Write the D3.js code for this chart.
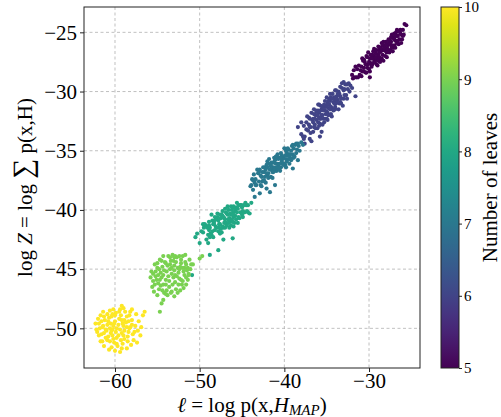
<!DOCTYPE html>
<html><head><meta charset="utf-8">
<script src="https://cdn.jsdelivr.net/npm/d3@7"></script>
<style>body{margin:0;background:#fff} svg{display:block} text{font-family:"Liberation Serif","Times New Roman",serif;}</style>
</head><body><svg id="c" width="501" height="417"></svg>
<script>
// Number of leaves for each cluster
const leaves = [5, 6, 7, 8, 9, 10];

// [ell = log p(x,H_MAP), log Z] points
const cluster5 = [[-28.3,-26.5],[-28.8,-26.5],[-27.9,-26.7],[-29.2,-27.3],[-27.4,-25.8],[-28.6,-27.3],[-29.7,-26.9],[-27.0,-26.1],[-30.1,-27.7],[-28.0,-25.8],[-29.4,-27.1],[-26.7,-25.3],[-30.5,-27.5],[-28.9,-27.4],[-27.6,-26.7],[-30.0,-28.1],[-26.4,-25.6],[-31.0,-28.2],[-28.2,-26.1],[-29.6,-27.7],[-26.2,-25.2],[-31.4,-28.1],[-27.2,-25.4],[-30.3,-27.0],[-28.5,-26.5],[-29.0,-27.1],[-26.0,-24.8],[-31.7,-28.8],[-27.3,-26.1],[-29.9,-27.2],[-28.4,-26.9],[-25.9,-25.2],[-30.8,-28.3],[-27.8,-26.1],[-29.3,-26.5],[-32.0,-28.6],[-25.8,-24.3],[-28.7,-26.3],[-27.1,-26.3],[-30.2,-28.0],[-26.8,-25.0],[-31.2,-27.8],[-29.5,-27.0],[-28.1,-27.0],[-26.5,-26.0],[-30.9,-27.9],[-27.5,-25.7],[-29.1,-27.7],[-26.1,-25.6],[-31.5,-28.8],[-28.3,-25.8],[-30.4,-28.4],[-27.4,-26.1],[-29.8,-27.6],[-26.3,-24.8],[-29.9,-28.8],[-31.8,-28.2],[-28.6,-26.6],[-27.0,-25.6],[-30.6,-28.0],[-26.7,-25.9],[-29.6,-26.9],[-28.0,-26.6],[-30.7,-27.4],[-27.7,-26.6],[-26.6,-25.3],[-29.2,-26.8],[-28.8,-27.1],[-31.1,-28.6],[-27.9,-26.0],[-29.7,-27.9],[-28.4,-26.5],[-30.0,-27.5],[-26.0,-25.3],[-27.3,-25.2],[-25.6,-24.4],[-28.9,-26.9],[-29.4,-27.5],[-27.6,-25.9],[-28.2,-26.5],
  [-28.5,-25.9],[-29.0,-27.8],[-27.7,-25.6],[-30.2,-27.1],[-27.2,-26.6],[-29.5,-26.6],[-28.1,-26.1],[-30.6,-27.3],[-26.9,-25.7],[-31.3,-28.8],[-28.7,-27.5],[-29.9,-28.3],[-27.5,-26.5],[-26.4,-24.9],[-30.8,-27.2],[-28.9,-26.2],[-27.9,-27.1],[-29.3,-27.5],[-26.9,-26.3],[-31.6,-27.9],[-28.0,-26.4],[-29.1,-26.5],[-30.4,-27.7],[-27.1,-25.5],[-26.6,-25.7],[-29.6,-27.2],[-28.5,-27.2],[-30.1,-26.7],[-27.4,-25.4],[-28.6,-26.3],[-29.8,-26.9],[-27.8,-26.4],[-30.9,-28.7],[-26.2,-25.9],[-28.3,-27.4],[-29.4,-26.4],[-27.0,-25.1],[-31.9,-28.9],[-26.9,-25.3],[-28.8,-26.7],[-30.3,-28.4],[-27.6,-25.7],[-29.2,-27.1],[-26.3,-25.1],[-28.4,-26.1],[-30.6,-28.3],[-27.3,-26.3],[-29.7,-27.2],[-28.2,-26.3],[-26.7,-24.8]];

const cluster6 = [[-34.8,-31.4],[-35.3,-31.3],[-34.3,-31.5],[-35.8,-32.3],[-33.8,-30.4],[-35.0,-32.3],[-36.2,-31.6],[-33.4,-30.9],[-36.6,-32.6],[-34.5,-30.5],[-35.9,-31.8],[-33.0,-29.9],[-37.0,-32.3],[-35.4,-32.3],[-34.0,-31.5],[-36.5,-33.0],[-32.7,-30.3],[-37.4,-33.2],[-34.6,-30.8],[-36.0,-32.6],[-32.5,-29.8],[-37.7,-32.9],[-33.6,-30.0],[-36.8,-31.8],[-35.1,-31.3],[-35.6,-32.0],[-32.4,-29.3],[-38.0,-33.6],[-33.9,-31.0],[-36.3,-32.0],[-34.9,-31.8],[-32.3,-30.0],[-37.2,-33.3],[-34.2,-30.9],[-35.7,-31.2],[-38.4,-33.0],[-33.2,-29.3],[-32.0,-29.7],[-31.6,-30.4],[-35.2,-30.8],[-33.3,-31.0],[-36.9,-33.5],[-34.4,-31.4],[-36.4,-32.3],[-33.1,-31.2],[-37.8,-33.8],[-34.7,-31.1],[-35.5,-31.3],[-32.8,-29.4],[-36.1,-33.1],[-33.7,-30.7],[-37.3,-32.1],[-35.0,-31.2],[-34.1,-30.5],[-36.7,-32.4],[-32.9,-30.3],[-37.6,-33.8],[-37.0,-34.0],[-37.6,-34.4],[-36.8,-34.2],[-35.8,-33.8],[-35.6,-33.4],[-38.0,-32.6],[-35.3,-32.6],[-34.3,-30.2],[-33.5,-30.2],[-36.4,-32.8],[-35.9,-31.1],[-33.9,-29.9],[-34.8,-32.0],[-36.0,-31.6],[-32.6,-30.6],[-34.5,-31.3],[-35.6,-31.5],[-33.4,-30.4],[-37.1,-32.8],[-34.0,-30.7],[-35.8,-32.7],[-33.0,-30.6],[-36.5,-31.9],[-34.6,-31.5],[-35.2,-31.6],
  [-35.0,-30.5],[-34.4,-32.1],[-36.0,-31.1],[-33.6,-31.5],[-35.5,-32.8],[-34.0,-29.9],[-36.6,-33.4],[-33.2,-29.7],[-35.7,-32.3],[-34.7,-30.6],[-36.2,-32.4],[-33.5,-31.0],[-35.3,-31.1],[-34.2,-31.6],[-37.1,-32.2],[-33.8,-30.9],[-35.9,-32.2],[-34.9,-31.0],[-36.5,-31.5],[-33.0,-29.2],[-35.4,-31.6],[-34.5,-31.9],[-36.3,-33.1],[-32.9,-29.8],[-35.1,-31.9],[-34.1,-31.0],[-37.4,-32.6],[-33.7,-30.2],[-36.1,-32.0],[-34.6,-30.2],[-35.7,-31.6],[-33.3,-30.6],[-36.9,-33.0],[-34.3,-30.6],[-35.2,-32.3],[-32.6,-29.4],[-37.7,-34.0],[-34.8,-30.8],[-36.6,-32.3],[-33.9,-30.5],[-35.5,-32.0],[-34.9,-32.4],[-36.2,-31.7],[-33.4,-29.6],[-35.9,-32.9],[-37.0,-33.0],[-34.0,-31.3],[-32.2,-29.5],[-35.0,-31.7]];

const cluster7 = [[-40.8,-36.1],[-41.3,-36.0],[-40.2,-36.1],[-41.9,-36.9],[-39.7,-35.2],[-40.9,-36.7],[-42.3,-36.4],[-39.3,-35.6],[-42.7,-37.2],[-40.4,-35.2],[-41.6,-36.3],[-38.9,-34.8],[-43.1,-36.9],[-41.1,-36.7],[-39.9,-36.2],[-42.5,-37.5],[-38.6,-35.2],[-43.5,-37.7],[-40.6,-35.6],[-42.0,-37.1],[-38.3,-34.6],[-43.8,-37.4],[-39.5,-34.9],[-42.9,-36.6],[-41.0,-36.1],[-41.5,-36.6],[-38.0,-34.3],[-44.0,-38.0],[-39.8,-35.7],[-42.2,-36.6],[-40.7,-36.3],[-37.8,-34.5],[-43.3,-37.9],[-40.1,-35.6],[-41.8,-36.1],[-39.4,-35.3],[-43.7,-38.3],[-43.5,-38.9],[-42.9,-38.6],[-42.1,-38.2],[-41.7,-38.5],[-41.1,-37.9],[-39.0,-36.5],[-38.4,-35.8],[-41.2,-35.6],[-39.2,-35.8],[-42.8,-37.9],[-40.3,-35.9],[-42.4,-36.8],[-39.0,-35.3],[-43.6,-37.0],[-40.5,-35.6],[-41.4,-36.8],[-38.7,-34.5],[-42.6,-36.8],[-40.0,-36.1],[-41.7,-36.6],[-39.6,-35.4],[-43.0,-37.6],[-40.9,-35.6],[-38.5,-34.9],[-42.1,-36.2],[-41.0,-36.5],[-39.1,-34.6],[-43.4,-37.4],[-40.4,-36.4],[-41.6,-37.2],[-39.5,-35.7],[-42.3,-37.2],[-40.6,-36.1],[-38.8,-35.5],[-41.3,-36.4],[-39.8,-35.0],[-42.0,-36.4],
  [-40.8,-35.3],[-41.4,-37.3],[-40.0,-34.8],[-42.2,-37.7],[-39.4,-36.1],[-41.8,-35.7],[-43.2,-36.6],[-40.3,-35.4],[-42.6,-37.6],[-39.0,-34.5],[-41.1,-35.8],[-40.5,-36.7],[-42.0,-35.9],[-38.6,-34.4],[-43.7,-37.5],[-41.5,-36.0],[-39.7,-35.9],[-42.4,-37.5],[-40.2,-35.7],[-38.2,-35.0],[-41.9,-37.3],[-39.9,-35.4],[-42.8,-37.1],[-40.7,-35.7],[-41.3,-36.8],[-39.2,-35.0],[-43.0,-36.8],[-40.9,-36.4],[-38.9,-35.6],[-42.1,-36.9],[-40.1,-36.2],[-41.6,-36.2],[-39.6,-34.8],[-43.4,-37.9],[-40.6,-36.5],[-42.5,-36.4],[-39.3,-35.3],[-41.0,-35.5],[-40.4,-35.6],[-38.4,-34.4],[-42.7,-38.0],[-41.2,-36.5],[-39.8,-36.4],[-43.9,-37.9]];

const cluster8 = [[-47.0,-40.8],[-47.5,-40.7],[-46.4,-41.0],[-48.1,-41.4],[-45.8,-40.0],[-47.2,-41.5],[-48.5,-40.9],[-45.4,-40.6],[-48.9,-41.7],[-46.6,-40.0],[-47.8,-40.9],[-45.0,-39.8],[-49.3,-41.3],[-47.3,-41.4],[-46.1,-41.0],[-48.7,-42.0],[-44.7,-40.2],[-49.6,-41.9],[-46.8,-40.3],[-48.2,-41.7],[-44.5,-39.6],[-49.5,-41.5],[-45.7,-39.8],[-48.9,-41.0],[-47.1,-40.7],[-47.6,-41.2],[-44.3,-39.6],[-46.0,-40.6],[-48.4,-41.2],[-46.9,-41.1],[-45.2,-40.2],[-49.0,-42.1],[-46.3,-40.4],[-48.0,-40.7],[-45.6,-40.2],[-50.5,-42.3],[-50.3,-42.0],[-50.0,-42.8],[-49.0,-42.8],[-47.8,-43.4],[-47.2,-42.5],[-46.1,-42.4],[-44.3,-40.2],[-43.9,-39.4],[-48.8,-43.8],[-50.9,-45.5],[-44.1,-40.3],[-47.4,-40.4],[-45.3,-40.7],[-48.6,-42.1],[-46.5,-40.7],[-48.3,-41.2],[-45.1,-39.6],[-49.4,-41.2],[-46.7,-40.4],[-47.7,-41.5],[-44.9,-40.1],[-48.0,-41.5],[-45.9,-41.1],[-47.9,-40.6],[-46.2,-40.0],[-49.1,-41.5],[-46.6,-41.1],[-44.6,-39.4],[-47.0,-41.5],[-45.5,-39.9],[-48.8,-41.5],[-46.0,-40.2],[-47.3,-40.5],
  [-47.0,-39.9],[-46.5,-41.5],[-47.9,-40.3],[-46.0,-41.4],[-48.6,-40.4],[-45.5,-41.1],[-47.6,-40.4],[-46.3,-39.7],[-48.2,-40.6],[-45.9,-39.8],[-47.4,-41.9],[-46.8,-41.3],[-49.2,-42.5],[-45.2,-39.6],[-48.4,-42.3],[-44.9,-40.6],[-47.2,-40.6],[-46.4,-40.3],[-48.9,-41.3],[-45.7,-40.8],[-47.7,-41.2],[-46.9,-40.2],[-49.8,-41.8],[-44.4,-40.1],[-47.5,-41.6],[-46.2,-40.8],[-48.1,-40.8],[-45.4,-39.6],[-47.1,-41.1],[-46.7,-39.7],[-48.5,-41.8],[-45.8,-40.5],[-47.3,-40.1],[-46.1,-40.4],[-48.8,-42.3],[-45.0,-40.4],[-47.8,-41.8],[-46.6,-40.8],[-49.6,-41.2],[-44.8,-39.6],[-48.3,-41.0],[-46.0,-39.7],[-47.6,-42.0],[-45.6,-39.4],[-46.3,-41.3]];

const cluster9 = [[-53.3,-45.4],[-54.0,-45.9],[-52.6,-44.9],[-53.8,-44.7],[-52.9,-46.1],[-54.6,-45.3],[-52.2,-44.5],[-53.4,-44.3],[-54.9,-46.2],[-51.9,-45.2],[-53.6,-46.5],[-55.2,-45.6],[-52.4,-45.8],[-54.1,-44.4],[-51.7,-44.4],[-53.0,-44.0],[-55.0,-44.9],[-52.1,-46.3],[-54.4,-46.8],[-51.4,-44.9],[-53.7,-43.9],[-55.5,-46.0],[-52.8,-46.7],[-54.7,-44.2],[-51.6,-45.7],[-53.3,-46.9],[-55.3,-44.6],[-52.0,-43.9],[-54.2,-47.0],[-51.2,-44.2],[-52.7,-44.0],[-55.6,-46.5],[-53.9,-45.2],[-52.5,-45.3],[-54.5,-45.7],[-53.1,-45.7],[-54.8,-45.0],[-51.3,-45.4],[-53.2,-43.8],[-55.7,-45.2],[-52.3,-46.8],[-54.3,-43.9],[-51.0,-44.6],[-53.8,-47.2],[-55.0,-44.5],[-52.9,-43.9],[-50.8,-44.6],[-54.0,-47.1],[-50.0,-44.1],[-49.7,-43.9],[-54.7,-48.6],[-54.5,-47.9],[-54.3,-47.6],[-55.4,-46.9],[-55.8,-45.7],[-51.6,-46.3],[-52.4,-45.0],[-53.5,-45.0],[-52.9,-45.5],[-54.3,-45.5],[-53.0,-44.7],[-53.6,-46.0],[-52.2,-45.9],[-54.6,-46.4],[-51.8,-44.9],[-55.1,-45.9],[-51.5,-45.1],[-51.7,-43.8],[-51.3,-45.5],
  [-53.0,-45.1],[-53.7,-45.6],[-52.7,-45.6],[-54.2,-45.1],[-52.3,-44.8],[-53.5,-44.6],[-54.7,-45.9],[-52.0,-44.9],[-53.2,-46.3],[-54.9,-45.5],[-52.5,-46.3],[-54.0,-44.5],[-51.8,-45.5],[-53.1,-44.3],[-55.2,-45.2],[-52.0,-46.0],[-54.3,-46.3],[-51.6,-44.6],[-53.9,-46.8],[-55.3,-46.3],[-52.8,-44.4],[-54.4,-44.8],[-51.4,-45.9],[-53.4,-47.0],[-55.5,-45.4],[-52.4,-43.9],[-54.0,-46.3],[-51.1,-45.0],[-53.5,-44.0],[-52.6,-47.0],[-54.8,-46.7],[-51.9,-46.6],[-53.0,-47.3],[-55.0,-47.2],[-52.2,-44.2],[-53.3,-44.9],[-54.5,-44.3]];

const cluster10 = [[-59.8,-50.0],[-60.5,-49.6],[-59.2,-50.4],[-61.0,-50.2],[-58.7,-49.5],[-60.2,-50.9],[-59.5,-49.2],[-61.4,-49.8],[-58.4,-50.3],[-60.8,-50.7],[-59.0,-49.8],[-60.0,-49.4],[-61.6,-50.5],[-58.9,-50.9],[-60.4,-50.2],[-59.6,-50.6],[-58.2,-49.9],[-61.2,-49.3],[-60.7,-49.1],[-59.3,-48.9],[-58.6,-49.0],[-60.1,-51.2],[-61.8,-50.0],[-57.9,-50.5],[-59.9,-48.7],[-60.9,-51.0],[-58.0,-49.3],[-61.9,-49.6],[-59.1,-51.3],[-60.3,-48.8],[-61.1,-50.8],[-58.3,-48.9],[-57.6,-49.8],[-59.7,-51.5],[-62.1,-50.3],[-60.6,-48.5],[-58.8,-48.6],[-61.5,-51.1],[-57.8,-51.0],[-59.4,-48.4],[-59.9,-50.3],[-60.6,-50.0],[-59.1,-49.6],[-60.2,-49.8],[-58.5,-50.7],[-61.3,-49.0],[-57.3,-50.2],[-62.0,-49.2],[-59.4,-52.0],[-56.5,-48.6],[-61.7,-51.1],[-58.1,-51.4],[-60.4,-51.6],[-61.7,-48.9],[-57.2,-49.4],[-56.9,-49.9],[-56.7,-48.9],[-59.0,-48.3],[-60.7,-51.8],[-58.6,-51.7],[-61.4,-48.6],[-57.5,-48.8],[-60.1,-49.6],[-59.4,-50.1],[-60.9,-49.7],[-58.9,-50.2],[-59.8,-50.8],[-60.5,-50.4],[-59.2,-49.3],[-61.1,-50.1],[-58.6,-49.9],[-60.3,-50.6],[-62.2,-50.1],[-58.2,-48.6],
  [-59.6,-49.7],[-60.3,-50.1],[-59.0,-50.6],[-60.8,-49.4],[-58.9,-49.3],[-60.6,-51.1],[-59.3,-51.0],[-61.3,-50.4],[-58.3,-50.0],[-60.0,-48.9],[-61.6,-49.4],[-59.5,-48.6],[-58.5,-51.1],[-60.9,-48.8],[-58.0,-49.7],[-61.9,-50.6],[-59.8,-51.3],[-57.7,-50.3],[-61.3,-51.5],[-60.2,-48.4],[-58.4,-49.4],[-59.2,-48.1],[-57.4,-51.2],[-61.5,-49.9],[-57.0,-50.6],[-62.3,-49.6],[-60.0,-51.9],[-59.2,-51.7],[-58.0,-48.4],[-60.4,-49.0]];

const xTicks = [-60, -50, -40, -30];
const yTicks = [-50, -45, -40, -35, -30, -25];
const cbTicks = [5, 6, 7, 8, 9, 10];
const xLimits = [-63.66, -23.98];
const yLimits = [-53.35, -22.86];

const svg = d3.select('#c');
const P = {l: 84, r: 420, t: 7, b: 368};
const x = d3.scaleLinear().domain(xLimits).range([P.l, P.r]);
const y = d3.scaleLinear().domain(yLimits).range([P.b, P.t]);
const color = d3.scaleSequential(d3.interpolateViridis).domain([5, 10]);

// grid
const grid = svg.append('g').attr('stroke', '#b0b0b0').attr('stroke-width', 0.8).attr('stroke-dasharray', '3,2.5');
grid.selectAll('.gx').data(xTicks).join('line').attr('class','gx')
  .attr('x1', d => x(d)).attr('x2', d => x(d)).attr('y1', P.t).attr('y2', P.b);
grid.selectAll('.gy').data(yTicks).join('line').attr('class','gy')
  .attr('y1', d => y(d)).attr('y2', d => y(d)).attr('x1', P.l).attr('x2', P.r);

// points
const clusters = [cluster5, cluster6, cluster7, cluster8, cluster9, cluster10];
clusters.forEach((pts, i) => {
  svg.append('g').selectAll('circle').data(pts).join('circle')
    .attr('cx', d => x(d[0])).attr('cy', d => y(d[1])).attr('r', 2.1)
    .attr('fill', color(leaves[i]));
});

// frame
svg.append('rect').attr('x', P.l).attr('y', P.t).attr('width', P.r - P.l).attr('height', P.b - P.t)
  .attr('fill', 'none').attr('stroke', '#222').attr('stroke-width', 1);

// axes
const gx = svg.append('g').attr('transform', `translate(0,${P.b})`)
  .call(d3.axisBottom(x).tickValues(xTicks).tickSize(4).tickPadding(1));
const gy = svg.append('g').attr('transform', `translate(${P.l},0)`)
  .call(d3.axisLeft(y).tickValues(yTicks).tickSize(4).tickPadding(3));
[gx, gy].forEach(g => {
  g.select('.domain').remove();
  g.selectAll('.tick line').attr('stroke', '#222');
  g.selectAll('.tick text').attr('font-size', 21).attr('fill', '#000')
    .attr('font-family', '"Liberation Serif","Times New Roman",serif');
});

// colorbar
const cb = {x: 441, w: 18};
const defs = svg.append('defs');
const grad = defs.append('linearGradient').attr('id', 'vir').attr('x1', 0).attr('y1', 1).attr('x2', 0).attr('y2', 0);
d3.range(0, 1.0001, 0.05).forEach(t => grad.append('stop').attr('offset', t).attr('stop-color', d3.interpolateViridis(t)));
svg.append('rect').attr('x', cb.x).attr('y', P.t).attr('width', cb.w).attr('height', P.b - P.t).attr('fill', 'url(#vir)')
  .attr('stroke', '#222').attr('stroke-width', 1);
const cbScale = d3.scaleLinear().domain([5, 10]).range([P.b, P.t]);
const gc = svg.append('g').attr('transform', `translate(${cb.x + cb.w},0)`)
  .call(d3.axisRight(cbScale).tickValues(cbTicks).tickFormat(d3.format('d')).tickSize(3).tickPadding(2));
gc.select('.domain').remove();
gc.selectAll('.tick line').attr('stroke', '#222');
gc.selectAll('.tick text').attr('font-size', 15).attr('fill', '#000')
  .attr('font-family', '"Liberation Serif","Times New Roman",serif');

// axis labels
const xl = svg.append('text').attr('x', (P.l + P.r) / 2).attr('y', 411.5).attr('text-anchor', 'middle').attr('font-size', 21);
xl.append('tspan').attr('font-style', 'italic').text('ℓ');
xl.append('tspan').text(' = log p(x,');
xl.append('tspan').attr('font-style', 'italic').text('H');
xl.append('tspan').attr('font-style', 'italic').attr('font-size', 15).attr('dy', 3).text('MAP');
xl.append('tspan').attr('dy', -3).text(')');

const yl = svg.append('text').attr('transform', `translate(32,${(P.t + P.b) / 2}) rotate(-90)`)
  .attr('text-anchor', 'middle').attr('font-size', 21);
yl.append('tspan').text('log ');
yl.append('tspan').attr('font-style', 'italic').text('Z');
yl.append('tspan').text(' = log ');
yl.append('tspan').attr('font-size', 28).text('∑');
yl.append('tspan').text(' p(x,H)');

svg.append('text').attr('transform', `translate(497,${(P.t + P.b) / 2}) rotate(-90)`)
  .attr('text-anchor', 'middle').attr('font-size', 21).text('Number of leaves');
</script></body></html>
